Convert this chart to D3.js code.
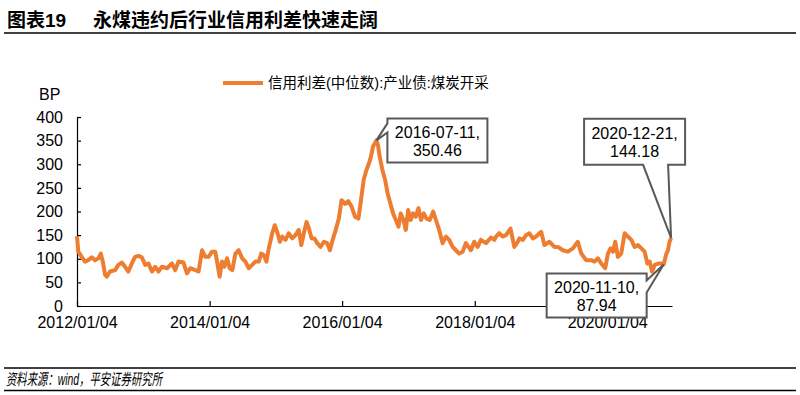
<!DOCTYPE html>
<html>
<head>
<meta charset="utf-8">
<script src="https://cdn.jsdelivr.net/npm/d3@7"></script>
<style>
body{margin:0;background:#fff;}
text{font-family:"Liberation Sans","Noto Sans CJK SC",sans-serif;fill:#000;}
</style>
</head>
<body>
<div id="chart"></div>
<script>
//series (BP)
var dates = ["2012-01-04","2012-01-11","2012-01-30","2012-02-17","2012-03-06","2012-03-25","2012-04-12","2012-05-01","2012-05-14","2012-05-25",
	"2012-06-07","2012-06-16","2012-07-04","2012-08-01","2012-08-19","2012-09-07","2012-09-25","2012-10-13","2012-11-01","2012-11-19",
	"2012-12-08","2012-12-26","2013-01-14","2013-02-01","2013-02-20","2013-03-10","2013-03-28","2013-04-16","2013-05-14","2013-06-10",
	"2013-06-28","2013-07-17","2013-08-13","2013-09-01","2013-09-19","2013-10-17","2013-11-04","2013-11-23","2013-12-11","2013-12-29",
	"2014-01-17","2014-02-04","2014-02-14","2014-02-28","2014-03-13","2014-03-26","2014-04-10","2014-04-24","2014-05-09","2014-05-26",
	"2014-06-13","2014-07-02","2014-07-20","2014-08-07","2014-08-26","2014-09-13","2014-10-02","2014-10-15","2014-10-29","2014-11-13",
	"2014-11-26","2014-12-15","2014-12-29","2015-01-11","2015-01-26","2015-02-08","2015-02-26","2015-03-16","2015-04-04","2015-04-22",
	"2015-05-10","2015-05-24","2015-06-07","2015-06-22","2015-07-05","2015-07-20","2015-08-05","2015-08-20","2015-09-07","2015-09-26",
	"2015-10-14","2015-10-29","2015-11-13","2015-11-29","2015-12-17","2016-01-01","2016-01-20","2016-02-07","2016-02-26","2016-03-15",
	"2016-04-03","2016-04-17","2016-05-02","2016-05-17","2016-05-31","2016-06-11","2016-06-22","2016-07-11","2016-07-20","2016-07-29",
	"2016-08-13","2016-08-28","2016-09-11","2016-09-26","2016-10-11","2016-10-26","2016-11-10","2016-11-22","2016-12-07","2016-12-20",
	"2017-01-02","2017-01-16","2017-01-29","2017-02-13","2017-02-28","2017-03-14","2017-03-29","2017-04-13","2017-05-01","2017-05-20",
	"2017-06-04","2017-06-22","2017-07-11","2017-07-29","2017-08-16","2017-09-04","2017-09-22","2017-10-10","2017-10-29","2017-11-16",
	"2017-12-14","2018-01-01","2018-01-20","2018-02-07","2018-03-07","2018-04-03","2018-04-22","2018-05-01","2018-05-19","2018-06-07",
	"2018-06-25","2018-07-20","2018-08-10","2018-08-29","2018-09-07","2018-09-26","2018-10-14","2018-11-01","2018-11-20","2018-12-08",
	"2019-01-05","2019-01-23","2019-02-19","2019-03-19","2019-04-07","2019-05-04","2019-06-01","2019-06-29","2019-07-26","2019-08-14",
	"2019-09-10","2019-10-08","2019-10-26","2019-11-14","2019-12-02","2019-12-24","2020-01-08","2020-01-22","2020-02-05","2020-02-17",
	"2020-03-03","2020-03-21","2020-04-09","2020-04-27","2020-05-16","2020-06-03","2020-06-22","2020-07-10","2020-07-28","2020-08-12",
	"2020-08-25","2020-09-07","2020-09-22","2020-10-11","2020-10-29","2020-11-10","2020-11-25","2020-12-04","2020-12-12","2020-12-21"];
var spreads = [148,115,104,94,97,103,97,101,111,94,
	66,62,73,76,87,92,83,73,90,104,
	106,103,87,90,73,83,73,83,80,90,
	76,94,92,69,80,76,73,118,104,104,
	115,115,94,62,94,83,101,80,76,111,
	118,101,94,80,87,94,94,111,108,94,
	122,154,171,157,136,147,140,154,143,150,
	161,129,154,178,164,143,143,133,125,136,
	133,118,140,160,185,224,216,222,210,189,
	185,224,267,288,302,316,337,350.46,340,316,
	288,267,238,217,196,182,168,196,182,161,
	203,182,196,189,207,182,196,185,182,200,
	182,161,133,147,140,125,118,111,115,133,
	118,136,125,140,133,145,140,147,154,147,
	150,164,125,136,143,140,150,154,143,147,
	157,129,136,125,125,118,115,122,136,111,
	97,97,94,101,90,80,111,122,115,136,
	104,111,154,147,140,125,129,122,115,90,
	94,73,87,90,90,87.94,111,118,135,144.18];

//axis ticks
var yTicks = [0,50,100,150,200,250,300,350,400];
var xTickDates = ["2012-01-04","2014-01-04","2016-01-04","2018-01-04","2020-01-04"];
var xTickLabels = ["2012/01/04","2014/01/04","2016/01/04","2018/01/04","2020/01/04"];

//callouts
var noteDates = ["2016-07-11","2020-12-21","2020-11-10"];
var noteValues = [350.46,144.18,87.94];

var parse = d3.timeParse("%Y-%m-%d");
var data = dates.map((d,i)=>({date:parse(d), value:spreads[i]}));

var svg = d3.select("#chart").append("svg")
	.attr("width",800)
	.attr("height",395);

//title + rules
svg.append("text").attr("x",7).attr("y",27)
	.attr("font-size",19).attr("font-weight","bold").text("图表19");
svg.append("text").attr("x",93).attr("y",27)
	.attr("font-size",19).attr("font-weight","bold").text("永煤违约后行业信用利差快速走阔");
svg.append("line").attr("x1",4).attr("x2",796).attr("y1",33).attr("y2",33)
	.attr("stroke","#000").attr("stroke-width",1.5);
svg.append("line").attr("x1",4).attr("x2",796).attr("y1",368).attr("y2",368)
	.attr("stroke","#000").attr("stroke-width",1.3);
svg.append("line").attr("x1",4).attr("x2",796).attr("y1",390.5).attr("y2",390.5)
	.attr("stroke","#000").attr("stroke-width",1.3);
svg.append("text").attr("x",6).attr("y",385)
	.attr("font-size",16).attr("font-style","italic")
	.attr("textLength",156).attr("lengthAdjust","spacingAndGlyphs")
	.text("资料来源：wind，平安证券研究所");

//scales
var x = d3.scaleTime()
	.domain([parse("2012-01-04"), parse("2020-12-26")])
	.range([77,672]);
var y = d3.scaleLinear()
	.domain([0,400])
	.range([306,117]);

//axes (ticks point inward)
var xAxis = svg.append("g")
	.attr("transform","translate(0,306)")
	.call(d3.axisBottom(x)
		.tickValues(xTickDates.map(parse))
		.tickFormat((d,i)=>xTickLabels[i])
		.tickSizeInner(-5).tickSizeOuter(0).tickPadding(11));
var yAxis = svg.append("g")
	.attr("transform","translate(77,0)")
	.call(d3.axisLeft(y)
		.tickValues(yTicks)
		.tickSizeInner(-4).tickSizeOuter(0).tickPadding(14));
svg.selectAll(".tick text").attr("font-size",16)
	.attr("font-family","'Liberation Sans',Arial,sans-serif").attr("fill","#000");
svg.selectAll(".domain, .tick line").attr("stroke","#000").attr("stroke-width",1.2);

svg.append("text").attr("x",39).attr("y",100).attr("font-size",16).text("BP");

//legend
svg.append("line").attr("x1",223).attr("x2",263).attr("y1",83).attr("y2",83)
	.attr("stroke","#ED7D31").attr("stroke-width",4);
svg.append("text").attr("x",268).attr("y",88).attr("font-size",14.5)
	.text("信用利差(中位数):产业债:煤炭开采");

//series
var line = d3.line()
	.x(d=>x(d.date))
	.y(d=>y(d.value));
svg.append("path")
	.datum(data)
	.attr("d",line)
	.attr("fill","none")
	.attr("stroke","#ED7D31")
	.attr("stroke-width",4)
	.attr("stroke-linejoin","round");

//callout boxes: offset of box from tip, size, wedge side and wedge base
var boxes = [
	{dx:11, dy:-22, w:100, h:44, side:"left", a:5, b:14},
	{dx:-87, dy:-119, w:101, h:46, side:"bottom", a:59, b:84},
	{dx:-117, dy:9, w:100, h:44, side:"right", a:7, b:19}
];

function calloutPath(tx,ty,bx,by,w,h,side,a,b){
	var p = [[bx,by]];
	if(side=="top") p.push([bx+a,by],[tx,ty],[bx+b,by]);
	p.push([bx+w,by]);
	if(side=="right") p.push([bx+w,by+a],[tx,ty],[bx+w,by+b]);
	p.push([bx+w,by+h]);
	if(side=="bottom") p.push([bx+b,by+h],[tx,ty],[bx+a,by+h]);
	p.push([bx,by+h]);
	if(side=="left") p.push([bx,by+b],[tx,ty],[bx,by+a]);
	return "M" + p.map(q=>q.join(",")).join("L") + "Z";
}

noteDates.forEach((nd,i)=>{
	var tx = x(parse(nd)), ty = y(noteValues[i]);
	var bx0 = boxes[i];
	var bx = tx + bx0.dx, by = ty + bx0.dy;
	svg.append("path")
		.attr("d",calloutPath(tx,ty,bx,by,bx0.w,bx0.h,bx0.side,bx0.a,bx0.b))
		.attr("fill","#fff")
		.attr("stroke","#595959")
		.attr("stroke-width",2)
		.attr("stroke-linejoin","miter");
	svg.append("text").attr("x",bx+bx0.w/2).attr("y",by+20)
		.attr("text-anchor","middle").attr("font-size",16)
		.text(nd + ",");
	svg.append("text").attr("x",bx+bx0.w/2).attr("y",by+38)
		.attr("text-anchor","middle").attr("font-size",16)
		.text(d3.format(".2f")(noteValues[i]));
});
</script>
</body>
</html>
